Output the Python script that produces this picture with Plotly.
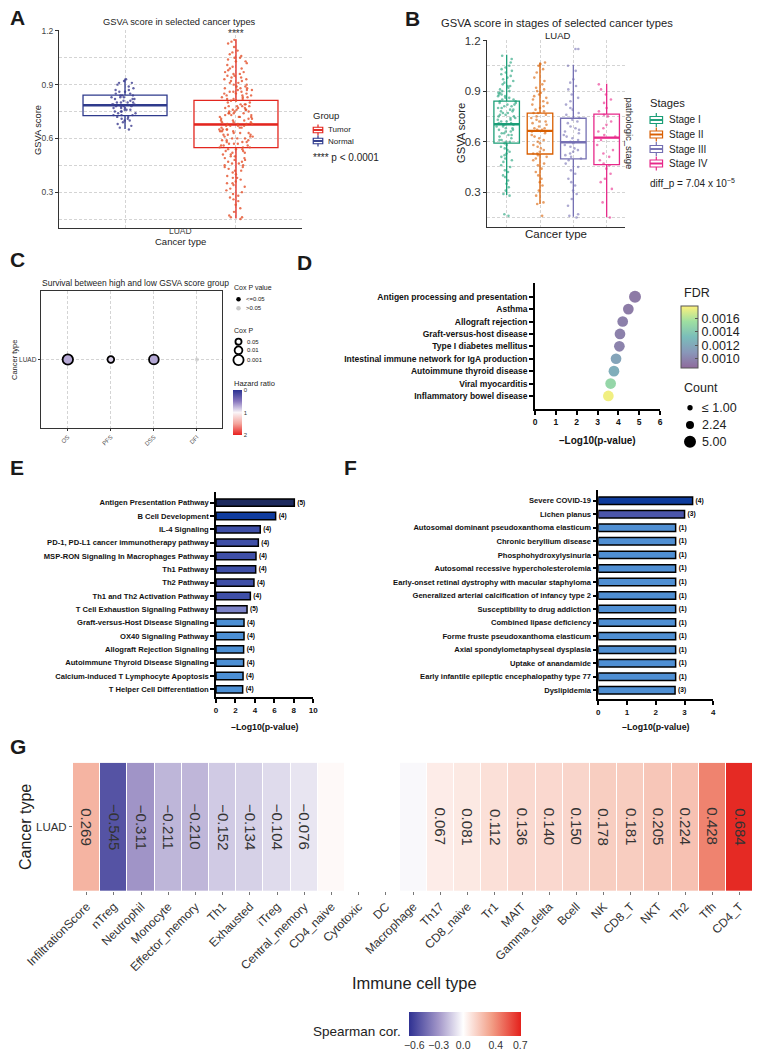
import math
import plotly.graph_objects as go

W, H = 765, 1060
FONT = "Liberation Sans, Arial, Helvetica, sans-serif"


def px(x):
    return x / W


def py(y):
    return 1 - y / H


# ---------------- Panel A data ----------------
a_groups = ["Normal", "Tumor"]
a_q1 = [0.727, 0.548]
a_median = [0.785, 0.678]
a_q3 = [0.842, 0.812]
a_lower = [0.653, 0.153]
a_upper = [0.935, 1.153]
normal_scores = [0.93, 0.92, 0.91, 0.91, 0.90, 0.89, 0.88, 0.87, 0.87, 0.86, 0.86, 0.85, 0.85, 0.84, 0.84,
                 0.84, 0.83, 0.83, 0.83, 0.82, 0.82, 0.82, 0.81, 0.81, 0.80, 0.80, 0.80, 0.80, 0.79, 0.79,
                 0.79, 0.78, 0.78, 0.78, 0.78, 0.77, 0.77, 0.77, 0.76, 0.76, 0.76, 0.75, 0.75, 0.75, 0.74,
                 0.74, 0.73, 0.73, 0.73, 0.72, 0.72, 0.71, 0.71, 0.70, 0.70, 0.69, 0.68, 0.67, 0.66, 0.65]
tumor_scores = [1.15, 1.14, 1.13, 1.11,
                1.09, 1.08, 1.07, 1.06, 1.05, 1.05, 1.04, 1.03, 1.03, 1.02, 1.01, 1.00,
                0.99, 0.99, 0.98, 0.97, 0.97, 0.96, 0.96, 0.95, 0.95, 0.94, 0.94, 0.93, 0.93, 0.92, 0.92,
                0.91, 0.91, 0.90, 0.90,
                0.89, 0.89, 0.88, 0.88, 0.88, 0.87, 0.87, 0.87, 0.86, 0.86, 0.86, 0.85, 0.85, 0.85, 0.84,
                0.84, 0.84, 0.83, 0.83, 0.83, 0.82, 0.82, 0.82, 0.81, 0.81, 0.80, 0.80,
                0.79, 0.79, 0.79, 0.78, 0.78, 0.78, 0.78, 0.77, 0.77, 0.77, 0.76, 0.76, 0.76, 0.76, 0.75,
                0.75, 0.75, 0.74, 0.74, 0.74, 0.74, 0.73, 0.73, 0.73, 0.72, 0.72, 0.72, 0.72, 0.71, 0.71,
                0.71, 0.70, 0.70, 0.70,
                0.69, 0.69, 0.69, 0.68, 0.68, 0.68, 0.68, 0.67, 0.67, 0.67, 0.67, 0.66, 0.66, 0.66, 0.65,
                0.65, 0.65, 0.65, 0.64, 0.64, 0.64, 0.63, 0.63, 0.63, 0.62, 0.62, 0.62, 0.61, 0.61, 0.61,
                0.60, 0.60, 0.60,
                0.59, 0.59, 0.59, 0.58, 0.58, 0.58, 0.57, 0.57, 0.57, 0.56, 0.56, 0.56, 0.55, 0.55, 0.55,
                0.54, 0.54, 0.54, 0.53, 0.53, 0.52, 0.52, 0.51, 0.51, 0.50, 0.50,
                0.49, 0.49, 0.48, 0.48, 0.47, 0.47, 0.46, 0.46, 0.45, 0.45, 0.44, 0.44, 0.43, 0.42, 0.42,
                0.41, 0.40,
                0.39, 0.38, 0.38, 0.37, 0.36, 0.35, 0.35, 0.34, 0.33, 0.32, 0.31, 0.30,
                0.29, 0.28, 0.27, 0.26, 0.25, 0.23, 0.21,
                0.19, 0.17, 0.16, 0.16, 0.15]

# ---------------- Panel B data ----------------
b_stages = ["Stage I", "Stage II", "Stage III", "Stage IV"]
b_q1 = [0.592, 0.527, 0.498, 0.464]
b_median = [0.703, 0.664, 0.597, 0.624]
b_q3 = [0.840, 0.769, 0.739, 0.763]
b_lower = [0.284, 0.230, 0.155, 0.154]
b_upper = [1.115, 1.070, 1.056, 0.943]
stage1_scores = [1.11, 1.09, 1.07, 1.05, 1.04, 1.03, 1.02, 1.01, 1.00,
                 0.99, 0.98, 0.97, 0.96, 0.95, 0.94, 0.93, 0.93, 0.92, 0.91, 0.90, 0.90,
                 0.89, 0.89, 0.88, 0.88, 0.87, 0.87, 0.86, 0.86, 0.85, 0.85, 0.84, 0.84, 0.83, 0.83,
                 0.82, 0.82, 0.81, 0.81, 0.80, 0.80,
                 0.79, 0.79, 0.78, 0.78, 0.77, 0.77, 0.76, 0.76, 0.75, 0.75, 0.74, 0.74, 0.73, 0.73,
                 0.72, 0.72, 0.71, 0.71, 0.70, 0.70, 0.70,
                 0.69, 0.69, 0.68, 0.68, 0.67, 0.67, 0.66, 0.66, 0.65, 0.65, 0.64, 0.64, 0.63, 0.62,
                 0.61, 0.61, 0.60, 0.60,
                 0.59, 0.58, 0.57, 0.56, 0.55, 0.54, 0.53, 0.52, 0.51, 0.50,
                 0.49, 0.48, 0.46, 0.45, 0.43, 0.42, 0.40,
                 0.39, 0.37, 0.35, 0.33, 0.31,
                 0.29, 0.28, 0.17, 0.16]
stage2_scores = [1.07, 1.06, 1.05, 1.03, 1.01,
                 0.98, 0.96, 0.94, 0.92, 0.91, 0.90,
                 0.89, 0.88, 0.87, 0.86, 0.85, 0.84, 0.83, 0.82, 0.81, 0.80,
                 0.79, 0.78, 0.77, 0.77, 0.76, 0.75, 0.74, 0.73, 0.72, 0.72, 0.71, 0.70,
                 0.69, 0.68, 0.68, 0.67, 0.67, 0.66, 0.66, 0.65, 0.64, 0.63, 0.62, 0.61, 0.60,
                 0.59, 0.58, 0.57, 0.56, 0.55, 0.54, 0.53, 0.53, 0.52, 0.51, 0.50,
                 0.49, 0.47, 0.46, 0.44, 0.42, 0.40,
                 0.38, 0.36, 0.34, 0.31,
                 0.28, 0.24, 0.23, 0.16]
stage3_scores = [1.15, 1.15, 1.05, 1.02,
                 0.97, 0.95, 0.93, 0.91,
                 0.88, 0.86, 0.84, 0.82, 0.80,
                 0.79, 0.77, 0.76, 0.74, 0.73, 0.72, 0.71,
                 0.69, 0.68, 0.67, 0.66, 0.65, 0.64, 0.63, 0.62, 0.61, 0.60,
                 0.59, 0.58, 0.57, 0.56, 0.55, 0.54, 0.53, 0.52, 0.51, 0.50,
                 0.49, 0.47, 0.45, 0.43, 0.41,
                 0.38, 0.36, 0.34, 0.31,
                 0.29, 0.26, 0.22, 0.17, 0.16, 0.15]
stage4_scores = [0.94, 0.91, 0.88, 0.85, 0.83, 0.80, 0.78, 0.76, 0.75, 0.72, 0.70, 0.68, 0.66, 0.64, 0.63,
                 0.61, 0.58, 0.55, 0.53, 0.51, 0.49, 0.47, 0.46, 0.44, 0.41, 0.38, 0.36, 0.32, 0.24, 0.15]

# ---------------- Panel C data ----------------
c_endpoints = ["OS", "PFS", "DSS", "DFI"]
c_cox_p = [0.0008, 0.03, 0.0016, 0.35]
c_hazard_ratio = [0.70, 0.84, 0.69, 0.95]
c_cancer = "LUAD"
c_legend_p = [0.05, 0.01, 0.001]

# ---------------- Panel D data ----------------
d_terms = ["Antigen processing and presentation", "Asthma", "Allograft rejection",
           "Graft-versus-host disease", "Type I diabetes mellitus",
           "Intestinal immune network for IgA production", "Autoimmune thyroid disease",
           "Viral myocarditis", "Inflammatory bowel disease"]
d_neglog_p = [4.80, 4.48, 4.21, 4.08, 4.05, 3.89, 3.79, 3.63, 3.52]
d_fdr = [0.00095, 0.00096, 0.00098, 0.00099, 0.00100, 0.00118, 0.00124, 0.00150, 0.00176]
d_count = [5, 4, 4, 4, 4, 4, 4, 4, 4]
d_count_legend = [1.00, 2.24, 5.00]
d_count_legend_text = ["\u2264 1.00", "2.24", "5.00"]

# ---------------- Panel E data ----------------
e_terms = ["Antigen Presentation Pathway", "B Cell Development", "IL-4 Signaling",
           "PD-1, PD-L1 cancer immunotherapy pathway", "MSP-RON Signaling In Macrophages Pathway",
           "Th1 Pathway", "Th2 Pathway", "Th1 and Th2 Activation Pathway",
           "T Cell Exhaustion Signaling Pathway", "Graft-versus-Host Disease Signaling",
           "OX40 Signaling Pathway", "Allograft Rejection Signaling",
           "Autoimmune Thyroid Disease Signaling", "Calcium-induced T Lymphocyte Apoptosis",
           "T Helper Cell Differentiation"]
e_neglog_p = [8.05, 6.13, 4.55, 4.35, 4.11, 4.08, 3.90, 3.53, 3.19, 2.88, 2.88, 2.84, 2.84, 2.78, 2.74]
e_counts = [5, 4, 4, 4, 4, 4, 4, 4, 5, 4, 4, 4, 4, 4, 4]
e_colors = ["#1d2a5e", "#0f3c9e", "#3f4fa7", "#3f4fa7", "#3f4fa7", "#3f4fa7", "#3f4fa7", "#3f4fa7",
            "#7c83c8", "#4c8fd4", "#4c8fd4", "#4c8fd4", "#4c8fd4", "#4c8fd4", "#4c8fd4"]

# ---------------- Panel F data ----------------
f_terms = ["Severe COVID-19", "Lichen planus", "Autosomal dominant pseudoxanthoma elasticum",
           "Chronic beryllium disease", "Phosphohydroxylysinuria",
           "Autosomal recessive hypercholesterolemia",
           "Early-onset retinal dystrophy with macular staphyloma",
           "Generalized arterial calcification of infancy type 2",
           "Susceptibility to drug addiction", "Combined lipase deficiency",
           "Forme fruste pseudoxanthoma elasticum", "Axial spondylometaphyseal dysplasia",
           "Uptake of anandamide", "Early infantile epileptic encephalopathy type 77", "Dyslipidemia"]
f_neglog_p = [3.28, 3.00, 2.69, 2.69, 2.69, 2.69, 2.69, 2.69, 2.69, 2.69, 2.69, 2.69, 2.69, 2.69, 2.67]
f_counts = [4, 3, 1, 1, 1, 1, 1, 1, 1, 1, 1, 1, 1, 1, 3]
f_colors = ["#0d3b9c", "#4b55aa"] + ["#4f8fd3"] * 13

# ---------------- Panel G data ----------------
g_cells = ["InfiltrationScore", "nTreg", "Neutrophil", "Monocyte", "Effector_memory", "Th1",
           "Exhausted", "iTreg", "Central_memory", "CD4_naive", "Cytotoxic", "DC", "Macrophage",
           "Th17", "CD8_naive", "Tr1", "MAIT", "Gamma_delta", "Bcell", "NK", "CD8_T", "NKT",
           "Th2", "Tfh", "CD4_T"]
g_cor = [0.269, -0.545, -0.311, -0.211, -0.210, -0.152, -0.134, -0.104, -0.076, 0.020, None, None,
         -0.020, 0.067, 0.081, 0.112, 0.136, 0.140, 0.150, 0.178, 0.181, 0.205, 0.224, 0.428, 0.684]
g_labeled = [True, True, True, True, True, True, True, True, True, False, False, False, False,
             True, True, True, True, True, True, True, True, True, True, True, True]
g_cancer = "LUAD"
g_ticks = [-0.6, -0.3, 0.0, 0.4, 0.7]

# ---------------- styles ----------------
GRID = "#d4d4d4"
DASH = "3px,2px"
A_LINE = ["#2e3a8c", "#e3261f"]
A_PTS = ["#3c3c8e", "#e4502a"]
B_COL = ["#1b9e77", "#d95f02", "#7570b3", "#e7298a"]
HR_SCALE = [[0.0, "#e8201e"], [0.25, "#f4a39b"], [0.5, "#faf5f8"], [0.75, "#8877be"], [1.0, "#2b3192"]]
FDR_SCALE = [[0.0, "#8f6a9c"], [0.25, "#8997b9"], [0.5, "#7abdba"], [0.75, "#9edfa1"], [1.0, "#fef17c"]]
G_ZMIN, G_ZMAX = -0.665, 0.71
G_STOPS = [(-0.665, "#2f3192"), (-0.3, "#a397c9"), (0.0, "#ffffff"), (0.35, "#f29e86"),
           (0.71, "#e4211c")]
G_SCALE = [[(v - G_ZMIN) / (G_ZMAX - G_ZMIN), c] for v, c in G_STOPS]
BOXW_A = 0.757
BOXW_B = 0.766


def cox_size(p):
    return 2.4 * (-math.log10(p)) + 3


def count_size(c):
    return 5.35 * math.sqrt(c)


def minus(s):
    return s.replace("-", "\u2212")


fig = go.Figure()


def add_boxes(cats, q1, med, q3, lo, hi, colors, width, xa, ya):
    for i, g in enumerate(cats):
        fig.add_trace(go.Box(x=[g], q1=[q1[i]], median=[med[i]], q3=[q3[i]],
                             lowerfence=[lo[i]], upperfence=[hi[i]], xaxis=xa, yaxis=ya,
                             width=width, whiskerwidth=0, boxpoints=False,
                             fillcolor="rgba(255,255,255,0)", line=dict(color=colors[i], width=1.3),
                             showlegend=False, hoverinfo="skip"))
        # thicker median bar (ggplot fatten)
        fig.add_trace(go.Box(x=[g], q1=[med[i]], median=[med[i]], q3=[med[i]],
                             lowerfence=[med[i]], upperfence=[med[i]], xaxis=xa, yaxis=ya,
                             width=width, whiskerwidth=0, boxpoints=False,
                             fillcolor="rgba(255,255,255,0)", line=dict(color=colors[i], width=2.4),
                             showlegend=False, hoverinfo="skip"))


def add_points(cats, pts, colors, width, jitter, size, opacity, xa, ya):
    for i, g in enumerate(cats):
        fig.add_trace(go.Box(x=[g] * len(pts[i]), y=pts[i], xaxis=xa, yaxis=ya,
                             boxpoints="all", jitter=jitter, pointpos=0, width=width,
                             fillcolor="rgba(0,0,0,0)", line=dict(width=0, color="rgba(0,0,0,0)"),
                             marker=dict(size=size, color=colors[i], opacity=opacity),
                             showlegend=False, hoverinfo="y"))


# ---------- A ----------
add_boxes(a_groups, a_q1, a_median, a_q3, a_lower, a_upper, A_LINE, BOXW_A, "x", "y")
add_points(a_groups, [normal_scores, tumor_scores], A_PTS, BOXW_A, 0.4, 2.4, 0.8, "x", "y")

# ---------- B ----------
add_boxes(b_stages, b_q1, b_median, b_q3, b_lower, b_upper, B_COL, BOXW_B, "x2", "y2")
add_points(b_stages, [stage1_scores, stage2_scores, stage3_scores, stage4_scores], B_COL, BOXW_B,
           0.8, 2.6, 0.6, "x2", "y2")

# ---------- C ----------
sig = [p <= 0.05 for p in c_cox_p]
fig.add_trace(go.Scatter(
    x=[e for e, s in zip(c_endpoints, sig) if s], y=[c_cancer] * sum(sig),
    mode="markers", xaxis="x3", yaxis="y3", showlegend=False,
    marker=dict(size=[cox_size(p) for p, s in zip(c_cox_p, sig) if s],
                color=[-h for h, s in zip(c_hazard_ratio, sig) if s],
                colorscale=HR_SCALE, cmin=-2, cmax=0, opacity=1,
                line=dict(color="black", width=1.8),
                colorbar=dict(x=px(233), xanchor="left", y=py(390), yanchor="top",
                              len=45, lenmode="pixels", thickness=8.5, thicknessmode="pixels",
                              xpad=0, ypad=0, outlinewidth=0, ticks="",
                              tickvals=[0, -1, -2], ticktext=["0", "1", "2"],
                              tickfont=dict(size=6, color="#333", family=FONT)))))
fig.add_trace(go.Scatter(
    x=[e for e, s in zip(c_endpoints, sig) if not s], y=[c_cancer] * (len(sig) - sum(sig)),
    mode="markers", xaxis="x3", yaxis="y3", showlegend=False,
    marker=dict(size=[cox_size(p) for p, s in zip(c_cox_p, sig) if not s], color="#c9c9c9",
                line=dict(width=0))))

# ---------- D ----------
fig.add_trace(go.Scatter(
    x=d_neglog_p, y=d_terms, mode="markers", xaxis="x4", yaxis="y4", showlegend=False,
    marker=dict(size=[count_size(c) for c in d_count], color=d_fdr, colorscale=FDR_SCALE,
                cmin=0.00087, cmax=0.00179, line=dict(width=0), opacity=1,
                colorbar=dict(x=px(681), xanchor="left", y=py(305.7), yanchor="top",
                              len=62, lenmode="pixels", thickness=17, thicknessmode="pixels",
                              xpad=0, ypad=0, outlinewidth=1, outlinecolor="#555",
                              ticks="inside", ticklen=3, tickcolor="#555",
                              tickvals=[0.0010, 0.0012, 0.0014, 0.0016],
                              ticktext=["0.0010", "0.0012", "0.0014", "0.0016"],
                              tickfont=dict(size=12.5, color="#222", family=FONT)))))

# ---------- E ----------
fig.add_trace(go.Bar(
    x=e_neglog_p, y=e_terms, orientation="h", xaxis="x5", yaxis="y5", showlegend=False,
    marker=dict(color=e_colors, line=dict(color="black", width=1.5)), width=0.55,
    text=["(%d)" % c for c in e_counts], textposition="outside", cliponaxis=False,
    textfont=dict(size=8, color="black", family=FONT, weight="bold")))

# ---------- F ----------
fig.add_trace(go.Bar(
    x=f_neglog_p, y=f_terms, orientation="h", xaxis="x6", yaxis="y6", showlegend=False,
    marker=dict(color=f_colors, line=dict(color="black", width=1.5)), width=0.55,
    text=["(%d)" % c for c in f_counts], textposition="outside", cliponaxis=False,
    textfont=dict(size=8, color="black", family=FONT, weight="bold")))

# ---------- G ----------
fig.add_trace(go.Heatmap(
    z=[g_cor], x=g_cells, y=[g_cancer], xaxis="x7", yaxis="y7", colorscale=G_SCALE,
    zmin=G_ZMIN, zmax=G_ZMAX, xgap=1, hoverongaps=False,
    colorbar=dict(orientation="h", x=px(409), xanchor="left", y=py(1011.5), yanchor="top",
                  len=111.5, lenmode="pixels", thickness=23.5, thicknessmode="pixels",
                  xpad=0, ypad=0, outlinewidth=0, ticks="", tickangle=0,
                  tickvals=g_ticks, ticktext=[minus("%.1f" % t) for t in g_ticks],
                  tickfont=dict(size=10.5, color="#333", family=FONT))))

# ---------- annotations & legend keys ----------
annotations = []
shapes = []


def text(t, x, y, size, color="#222", bold=False, xanchor="center", angle=0):
    annotations.append(dict(text=t, x=px(x), y=py(y), xref="paper", yref="paper", showarrow=False,
                            xanchor=xanchor, yanchor="middle", textangle=angle,
                            font=dict(family=FONT, size=size, color=color,
                                      weight="bold" if bold else "normal")))


def pline(x0, y0, x1, y1, color, w):
    shapes.append(dict(type="line", xref="paper", yref="paper", x0=px(x0), y0=py(y0),
                       x1=px(x1), y1=py(y1), line=dict(color=color, width=w)))


def box_key(cx, cy, w, h, color, lw=1.2):
    shapes.append(dict(type="rect", xref="paper", yref="paper", x0=px(cx - w / 2),
                       x1=px(cx + w / 2), y0=py(cy + h * 0.25), y1=py(cy - h * 0.25),
                       line=dict(color=color, width=lw), fillcolor="white"))
    pline(cx - w / 2, cy, cx + w / 2, cy, color, lw * 1.6)
    pline(cx, cy - h / 2, cx, cy - h * 0.25, color, lw)
    pline(cx, cy + h * 0.25, cx, cy + h / 2, color, lw)


def circle_key(cx, cy, d, fill, line_color="black", lw=0):
    r = d / 2
    shapes.append(dict(type="circle", xref="paper", yref="paper", xsizemode="pixel",
                       ysizemode="pixel", xanchor=px(cx), yanchor=py(cy), x0=-r, x1=r, y0=-r, y1=r,
                       fillcolor=fill, line=dict(color=line_color, width=lw)))


# panel letters
for letter, x, y in [("A", 17, 18), ("B", 412, 18.5), ("C", 17.5, 260), ("D", 304, 262),
                     ("E", 17, 467), ("F", 350, 467), ("G", 17.5, 746)]:
    text(letter, x, y, 21, color="#1a1a1a", bold=True)

# A texts
text("GSVA score in selected cancer types", 179, 22.3, 9.3)
text("****", 236, 33, 10, color="#333")
text("GSVA score", 38, 130, 9.3, angle=-90)
text("LUAD", 180.5, 231, 8.5, color="#444")
text("Cancer type", 180.5, 241.5, 9.5)
text("Group", 311, 116, 9.5, xanchor="left")
for idx, yy in [(1, 130), (0, 141)]:
    box_key(318, yy, 9.5, 11, A_LINE[idx])
    text(a_groups[idx], 326, yy, 8, xanchor="left")
text("**** p < 0.0001", 311, 157, 10, xanchor="left")

# B texts
text("GSVA score in stages of selected cancer types", 557, 23.3, 11.2)
text("LUAD", 557, 35.5, 9.5)
text("pathologic_stage", 629.5, 133, 9.5, angle=90)
text("GSVA score", 461, 133, 11.2, angle=-90)
text("Cancer type", 556, 234.5, 11.5)
text("Stages", 648, 103, 11.2, xanchor="left")
for i, s in enumerate(b_stages):
    yy = [120, 134.5, 149, 163.5][i]
    box_key(656.3, yy, 12.5, 14, B_COL[i])
    text(s, 667, yy, 10, xanchor="left")
text("diff_p = 7.04 x 10<sup>\u22125</sup>", 648, 183, 10, xanchor="left")

# C texts
text("Survival between high and low GSVA score group", 40, 282.7, 8.5, xanchor="left")
text("Cancer type", 15, 360, 7.5, angle=-90)
text("Cox P value", 232, 287.7, 7, xanchor="left")
circle_key(238.5, 299.3, 4.5, "black")
text("<=0.05", 244, 299.3, 6, xanchor="left")
circle_key(238.5, 308.3, 4.5, "#c9c9c9")
text(">0.05", 244, 308.3, 6, xanchor="left")
text("Cox P", 232, 330, 7, xanchor="left")
for p, yy in zip(c_legend_p, [341.7, 350.3, 360]):
    circle_key(238.5, yy, cox_size(p), "white", "black", 1.8)
    text(("%g" % p), 245, yy, 6, xanchor="left")
text("Hazard ratio", 232, 384, 7.5, xanchor="left")

# D texts
text("\u2013Log10(p-value)", 597.5, 440, 10, bold=True, color="#111")
text("FDR", 682, 293.3, 12.5, xanchor="left")
text("Count", 682, 388, 12.5, xanchor="left")
for c, lab, yy in zip(d_count_legend, d_count_legend_text, [407.7, 425, 441.7]):
    circle_key(690, yy, count_size(c), "black")
    text(lab, 700, yy, 12.5, xanchor="left")

# E / F axis titles
text("\u2013Log10(p-value)", 264.7, 726.7, 8.8, bold=True, color="#111")
text("\u2013Log10(p-value)", 655.8, 727.3, 8.8, bold=True, color="#111")

# G texts
text("Cancer type", 25, 827, 16, angle=-90)
text("Immune cell type", 414, 982.7, 16.5)
text("Spearman cor.", 403, 1031, 13.5, xanchor="right")
for cell, v, shown in zip(g_cells, g_cor, g_labeled):
    if shown:
        annotations.append(dict(text=minus("%.3f" % v), x=cell, y=g_cancer, xref="x7", yref="y7",
                                showarrow=False, textangle=90,
                                font=dict(family=FONT, size=15, color="#333")))

ax_dark = dict(showline=True, linecolor="#333333", linewidth=1, zeroline=False, automargin=False)
gp_axis = dict(showline=True, linecolor="black", linewidth=1.5, zeroline=False, showgrid=False,
               ticks="outside", ticklen=4, tickwidth=1.5, tickcolor="black", automargin=False)

fig.update_layout(
    template="none",
    width=W, height=H, autosize=False, margin=dict(l=0, r=0, t=0, b=0, pad=0),
    paper_bgcolor="white", plot_bgcolor="white", showlegend=False, boxmode="overlay",
    font=dict(family=FONT, color="#222"), annotations=annotations, shapes=shapes,
    # A
    xaxis=dict(domain=[px(59), px(302)], anchor="y", type="category", categoryorder="array",
               categoryarray=a_groups, range=[-0.595, 1.595], showticklabels=False, ticks="",
               showgrid=True, gridcolor=GRID, griddash=DASH, **ax_dark),
    yaxis=dict(domain=[py(228), py(30)], anchor="x", range=[0.1, 1.205], dtick=0.3, tick0=0,
               tickformat=".1f", ticks="outside", ticklen=3, tickcolor="#333",
               tickfont=dict(size=8.5, color="#444"), showgrid=True, gridcolor=GRID, griddash=DASH,
               minor=dict(dtick=0.15, tick0=0, showgrid=True, gridcolor=GRID, griddash=DASH),
               **ax_dark),
    # B
    xaxis2=dict(domain=[px(487), px(625)], anchor="y2", type="category", categoryorder="array",
                categoryarray=b_stages, range=[-0.59, 3.55], showticklabels=False, ticks="",
                showgrid=True, gridcolor=GRID, griddash=DASH, **ax_dark),
    yaxis2=dict(domain=[py(227), py(40)], anchor="x2", range=[0.094, 1.203], dtick=0.3, tick0=0,
                tickformat=".1f", ticks="outside", ticklen=3, tickcolor="#333",
                tickfont=dict(size=11.5, color="#333"), showgrid=True, gridcolor=GRID,
                griddash=DASH,
                minor=dict(dtick=0.15, tick0=0, showgrid=True, gridcolor=GRID, griddash=DASH),
                **ax_dark),
    # C
    xaxis3=dict(domain=[px(40.7), px(222.3)], anchor="y3", type="category", categoryorder="array",
                categoryarray=c_endpoints, range=[-0.63, 3.59], tickangle=-45,
                tickfont=dict(size=6, color="#555"), ticks="outside", ticklen=2, tickcolor="#333",
                showgrid=True, gridcolor=GRID, griddash=DASH, mirror=True, **ax_dark),
    yaxis3=dict(domain=[py(428.3), py(290.7)], anchor="x3", type="category", range=[-1, 1],
                tickfont=dict(size=6.5, color="#333"), ticks="outside", ticklen=2,
                tickcolor="#333", showgrid=True, gridcolor=GRID, griddash=DASH, mirror=True,
                **ax_dark),
    # D
    xaxis4=dict(domain=[px(535), px(660)], anchor="y4", range=[0, 6], dtick=1,
                tickfont=dict(size=8.5, color="#111", weight="bold"), **gp_axis),
    yaxis4=dict(domain=[py(409), py(283.3)], anchor="x4", type="category", categoryorder="array",
                categoryarray=d_terms, range=[9.05, -1.08],
                tickfont=dict(size=8.5, color="#111", weight="bold"), **gp_axis),
    # E
    xaxis5=dict(domain=[px(216), px(313.3)], anchor="y5", range=[0, 10], dtick=2,
                tickfont=dict(size=8, color="#111", weight="bold"), **gp_axis),
    yaxis5=dict(domain=[py(697.3), py(491.7)], anchor="x5", type="category",
                categoryorder="array", categoryarray=e_terms, range=[14.6, -0.825],
                tickfont=dict(size=7.6, color="#111", weight="bold"), **gp_axis),
    # F
    xaxis6=dict(domain=[px(598.3), px(713.3)], anchor="y6", range=[0, 4], dtick=1,
                tickfont=dict(size=8, color="#111", weight="bold"), **gp_axis),
    yaxis6=dict(domain=[py(699.3), py(490)], anchor="x6", type="category",
                categoryorder="array", categoryarray=f_terms, range=[14.665, -0.79],
                tickfont=dict(size=7.6, color="#111", weight="bold"), **gp_axis),
    # G
    xaxis7=dict(domain=[px(73), px(753.3)], anchor="y7", type="category", categoryorder="array",
                categoryarray=g_cells, tickangle=-45, tickfont=dict(size=12, color="#333"),
                ticks="outside", ticklen=3, tickcolor="#777", showgrid=False, zeroline=False,
                showline=False, automargin=False),
    yaxis7=dict(domain=[py(891), py(762.7)], anchor="x7", type="category",
                tickfont=dict(size=11.5, color="#333"), ticks="outside", ticklen=3,
                tickcolor="#777", showgrid=False, zeroline=False, showline=False,
                automargin=False),
)

fig.write_html("out.html", config={"displayModeBar": False},
               post_script="document.body.style.margin='0px';"
                           "document.documentElement.style.overflow='hidden';")
